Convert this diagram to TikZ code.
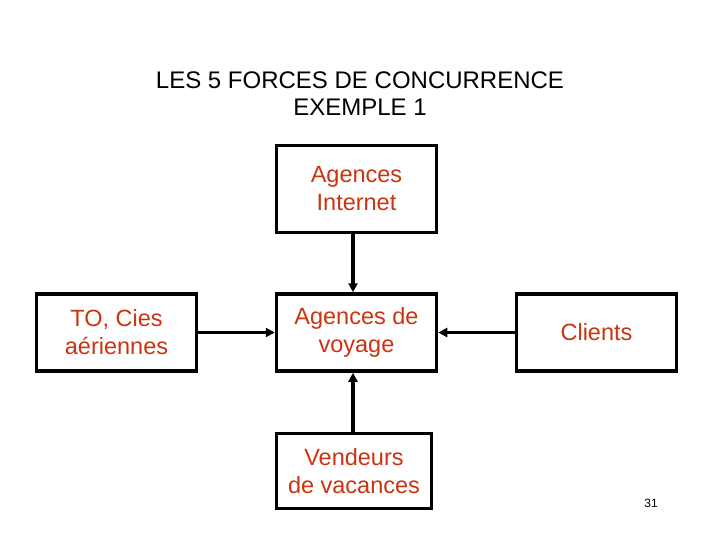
\documentclass[tikz,border=0pt]{standalone}
\usepackage{fontspec}
\setmainfont{Liberation Sans}
\usetikzlibrary{arrows.meta}
\definecolor{txtred}{HTML}{CC3311}
\begin{document}
\begin{tikzpicture}[x=1pt,y=-1pt,
  box/.style={draw=black,line width=3.5pt,minimum width=160pt,minimum height=77pt,inner sep=0pt,
    font=\fontsize{23.5}{28}\selectfont,text=txtred,align=center},
  conn/.style={line width=3.5pt,-{Triangle[length=9pt,width=9pt]}}]
\useasboundingbox[fill=white] (0,0) rectangle (720,540);
\node[font=\fontsize{24}{27}\selectfont,align=center] (title) at (360,94) {LES 5 FORCES DE CONCURRENCE\\EXEMPLE 1};
\node[box,minimum height=87pt] (top) at (356.5,189) {Agences\\ Internet};
\node[box] (left) at (116.5,332.5) {TO, Cies\\ aériennes};
\node[box] (mid) at (356.5,332.5) {Agences de\\voyage};
\node[box] (right) at (596.5,332.5) {Clients};
\node[box,minimum width=155pt,minimum height=75pt] (bot) at (354,471) {Vendeurs\\ de vacances};
\node[font=\fontsize{12}{14}\selectfont] (num) at (651,503) {31};
\draw[conn] (top.south -| 353,0) -- (mid.north -| 353,0);
\draw[conn] (bot.north -| 353,0) -- (mid.south -| 353,0);
\draw[conn] (left) -- (mid);
\draw[conn] (right) -- (mid);
\end{tikzpicture}
\end{document}
